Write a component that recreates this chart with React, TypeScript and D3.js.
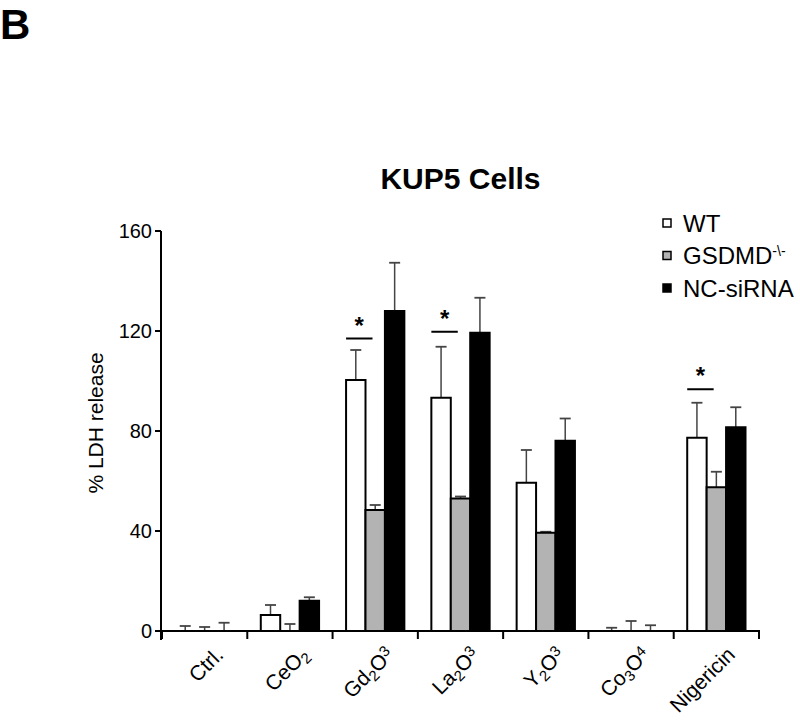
import React from 'react';
import * as d3 from 'd3';

const categories = ['Ctrl.', 'CeO2', 'Gd2O3', 'La2O3', 'Y2O3', 'Co3O4', 'Nigericin'];
// label pieces: [text, 'n' | 'sub' | 'sup']
const labelParts: [string, string][][] = [
  [['Ctrl.', 'n']],
  [['CeO', 'n'], ['2', 'sub']],
  [['Gd', 'n'], ['2', 'sub'], ['O', 'n'], ['3', 'sup']],
  [['La', 'n'], ['2', 'sub'], ['O', 'n'], ['3', 'sup']],
  [['Y', 'n'], ['2', 'sub'], ['O', 'n'], ['3', 'sup']],
  [['Co', 'n'], ['3', 'sub'], ['O', 'n'], ['4', 'sup']],
  [['Nigericin', 'n']],
];

const seriesNames = ['WT', 'GSDMD', 'NC-siRNA'];
const seriesFill = ['#ffffff', '#b3b3b3', '#000000'];

const wt = [0, 6.4, 100.4, 93.3, 59.3, 0, 77.3];
const wtErr = [2, 4, 12, 20.4, 13.1, 1.3, 14];
const gsdmd = [0, 0, 48.4, 53, 39.3, 0, 57.5];
const gsdmdErr = [1.6, 2.8, 2, 0.8, 0.4, 4, 6.2];
const nc = [0, 12.1, 128, 119.3, 76.1, 0, 81.5];
const ncErr = [3.3, 1.4, 19.3, 14, 8.9, 2.3, 8];

const yTicks = [0, 40, 80, 120, 160];

// significance marks: category and height of the bar line
const sigCats = ['Gd2O3', 'La2O3', 'Nigericin'];
const sigLevel = [117, 119.7, 96.7];

const font = 'Liberation Sans, Arial, Helvetica, sans-serif';

export default function App() {
  const x = d3.scaleBand().domain(categories).range([162, 759]);
  const bw = x.bandwidth();
  const inner = d3.scaleBand().domain(seriesNames).range([13.5, bw - 13.5]);
  const y = d3.scaleLinear().domain([0, 160]).range([631, 231]);

  const values = [wt, gsdmd, nc];
  const errs = [wtErr, gsdmdErr, ncErr];
  const boundaries = categories.map((c) => x(c)!).concat([x.range()[1]]);
  const plotMid = (x.range()[0] + x.range()[1]) / 2;

  return (
    <svg width={800} height={728} style={{ position: 'absolute', left: 0, top: 0 }} fontFamily={font}>
      <rect width={800} height={728} fill="#fff" />
      <text x={0} y={39} fontSize={42} fontWeight="bold">B</text>

      <text x={plotMid} y={189} fontSize={30} fontWeight="bold" textAnchor="middle">KUP5 Cells</text>

      {/* bars */}
      {categories.map((c, i) => (
        <g key={c} transform={`translate(${x(c)},0)`}>
          {seriesNames.map((s, k) => {
            const v = values[k][i];
            const e = errs[k][i];
            const bx = inner(s)!;
            const cx = bx + inner.bandwidth() / 2;
            return (
              <g key={s}>
                <line x1={cx} x2={cx} y1={y(v)} y2={y(v + e)} stroke="#444" strokeWidth={1.5} />
                <line x1={cx - 5.5} x2={cx + 5.5} y1={y(v + e)} y2={y(v + e)} stroke="#444" strokeWidth={1.8} />
                {v > 0 && (
                  <rect x={bx} y={y(v)} width={inner.bandwidth()} height={y(0) - y(v)}
                    fill={seriesFill[k]} stroke="#000" strokeWidth={2} />
                )}
              </g>
            );
          })}
        </g>
      ))}

      {/* significance */}
      {sigCats.map((c, i) => {
        const x0 = x(c)! + inner('WT')!;
        const x1 = x0 + inner.bandwidth() + 7;
        return (
          <g key={c}>
            <line x1={x0} x2={x1} y1={y(sigLevel[i])} y2={y(sigLevel[i])} stroke="#000" strokeWidth={2} />
            <text x={(x0 + x1) / 2} y={y(sigLevel[i]) - 5} fontSize={24} fontWeight="bold" textAnchor="middle">*</text>
          </g>
        );
      })}

      {/* y axis */}
      <line x1={161} x2={161} y1={y(160)} y2={640} stroke="#000" strokeWidth={2} />
      {yTicks.map((t) => (
        <g key={t}>
          <line x1={155} x2={161} y1={y(t)} y2={y(t)} stroke="#000" strokeWidth={2} />
          <text x={152} y={y(t)} dy="0.35em" fontSize={20} textAnchor="end">{t}</text>
        </g>
      ))}
      <text transform={`translate(103,423) rotate(-90)`} fontSize={21} textAnchor="middle">% LDH release</text>

      {/* x axis */}
      <line x1={161} x2={760} y1={y(0)} y2={y(0)} stroke="#000" strokeWidth={2} />
      {boundaries.map((b, i) => (
        <line key={i} x1={b} x2={b} y1={y(0)} y2={y(0) + 8} stroke="#000" strokeWidth={2} />
      ))}
      {categories.map((c, i) => (
        <text key={c} transform={`translate(${x(c)! + bw / 2 + 20},656) rotate(-45)`}
          fontSize={21} textAnchor="end">
          {labelParts[i].map(([t, kind], j) => (
            <tspan key={j} fontSize={kind === 'n' ? 21 : 15}
              baselineShift={kind === 'sub' ? '-25%' : kind === 'sup' ? '40%' : undefined}>{t}</tspan>
          ))}
        </text>
      ))}

      {/* legend */}
      {seriesNames.map((s, k) => (
        <g key={s} transform={`translate(663,${223 + k * 32.5})`}>
          <rect x={0} y={-4} width={8} height={8} fill={seriesFill[k]} stroke="#000" strokeWidth={1.5} />
          <text x={20} y={8.5} fontSize={24}>
            {k === 1 ? (
              <>
                GSDMD<tspan fontSize={14} baselineShift="55%">-\-</tspan>
              </>
            ) : s}
          </text>
        </g>
      ))}
    </svg>
  );
}
